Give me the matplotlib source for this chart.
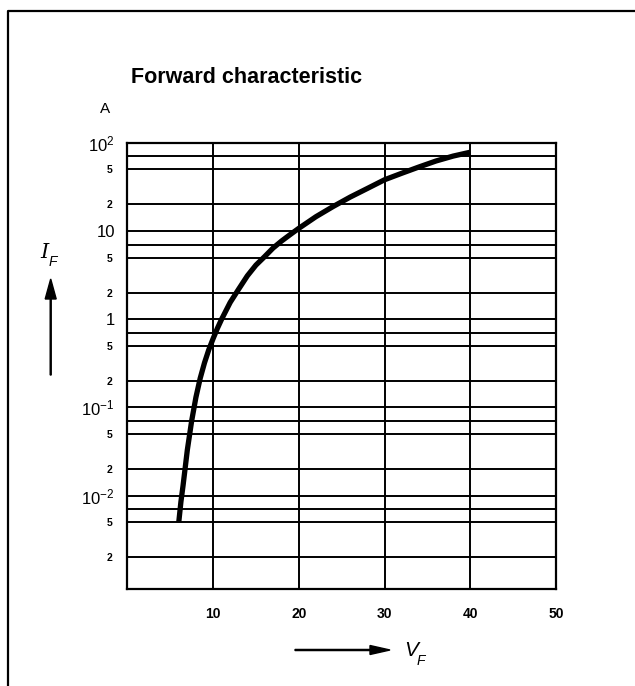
import numpy as np
import matplotlib
matplotlib.use('Agg')
import matplotlib.pyplot as plt

plt.rcParams['font.family'] = ['Liberation Sans', 'DejaVu Sans']
plt.rcParams['mathtext.default'] = 'regular'

# forward characteristic
v_f = [6.0, 6.25, 6.5, 7.0, 7.5, 8.0, 8.5, 9.0, 9.5, 10.0, 10.5, 11.0,
       12.0, 13.0, 14.0, 15.0, 16.0, 17.0, 18.0, 19.0, 20.0,
       22.0, 24.0, 26.0, 28.0, 30.0, 32.0, 34.0, 36.0, 38.0, 40.0]
i_f = [0.005, 0.0085, 0.013, 0.033, 0.07, 0.13, 0.214, 0.32, 0.45, 0.60, 0.785, 1.0,
       1.55, 2.2, 3.1, 4.1, 5.1, 6.4, 7.7, 9.1, 10.7,
       14.5, 18.9, 24.2, 30.3, 38.0, 45.0, 53.0, 62.0, 70.5, 78.0]

x_ticks = [10, 20, 30, 40, 50]
x_labels = ['10', '20', '30', '40', '50']
y_major = [1e-2, 1e-1, 1, 10, 100]
y_major_labels = ['$10^{-2}$', '$10^{-1}$', '1', '10', '$10^2$']
y_minor = [2e-3, 5e-3, 7e-3, 2e-2, 5e-2, 7e-2, 0.2, 0.5, 0.7,
           2, 5, 7, 20, 50, 70]
y_minor_labels = ['2', '5', '', '2', '5', '', '2', '5', '',
                  '2', '5', '', '2', '5', '']

fig = plt.figure(figsize=(6.35, 6.86), dpi=100)
ax = fig.add_axes([0.2005, 0.141, 0.6751, 0.651])

ax.plot(v_f, i_f, color='black', lw=3.8, solid_capstyle='butt',
        solid_joinstyle='round', zorder=3)

ax.set_yscale('log')
ax.set_xlim(0, 50)
ax.set_ylim(8.7e-4, 100)

ax.set_xticks(x_ticks)
ax.set_xticklabels(x_labels, fontsize=10, fontweight='bold')
ax.set_xticks([], minor=True)
ax.set_yticks(y_major)
ax.set_yticklabels(y_major_labels, fontsize=12)
ax.set_yticks(y_minor, minor=True)
ax.set_yticklabels(y_minor_labels, minor=True, fontsize=7.5, fontweight='bold')

ax.tick_params(axis='both', which='both', length=0)
ax.tick_params(axis='x', pad=13)
ax.tick_params(axis='y', which='major', pad=9)
ax.tick_params(axis='y', which='minor', pad=11)

ax.grid(True, which='both', axis='y', color='black', lw=1.4)
ax.grid(True, which='major', axis='x', color='black', lw=1.4)
for s in ax.spines.values():
    s.set_linewidth(1.6)

# labels and arrows
fig.text(130.7 / 635, 1 - 83 / 686, 'Forward characteristic',
         fontsize=15.5, fontweight='bold', ha='left', va='baseline')
fig.text(105 / 635, 1 - 109 / 686, 'A', fontsize=11, ha='center', va='center')
fig.text(44 / 635, 1 - 253 / 686, 'I', fontsize=15, style='italic',
         family='DejaVu Serif', ha='center', va='center')
fig.text(52.5 / 635, 1 - 262 / 686, 'F', fontsize=10, style='italic',
         ha='center', va='center')
fig.text(411 / 635, 1 - 651 / 686, 'V', fontsize=15, style='italic',
         ha='center', va='center')
fig.text(420.5 / 635, 1 - 661 / 686, 'F', fontsize=10, style='italic',
         ha='center', va='center')

fig.patches.append(matplotlib.patches.FancyArrow(
    50.7 / 635, 1 - 375 / 686, 0, (375 - 279) / 686, width=0.0016,
    head_width=11 / 635, head_length=20 / 686, length_includes_head=True,
    color='black', transform=fig.transFigure))
fig.patches.append(matplotlib.patches.FancyArrow(
    295 / 635, 1 - 650 / 686, (390 - 295) / 635, 0, width=0.0016,
    head_width=9 / 686, head_length=20 / 635, length_includes_head=True,
    color='black', transform=fig.transFigure))

# datasheet frame (left and top edges of the box)
fig.add_artist(plt.Line2D([8 / 635, 8 / 635, 1], [0, 1 - 11 / 686, 1 - 11 / 686],
                          color='black', lw=1.6, transform=fig.transFigure))

fig.savefig('out.png', dpi=100)
